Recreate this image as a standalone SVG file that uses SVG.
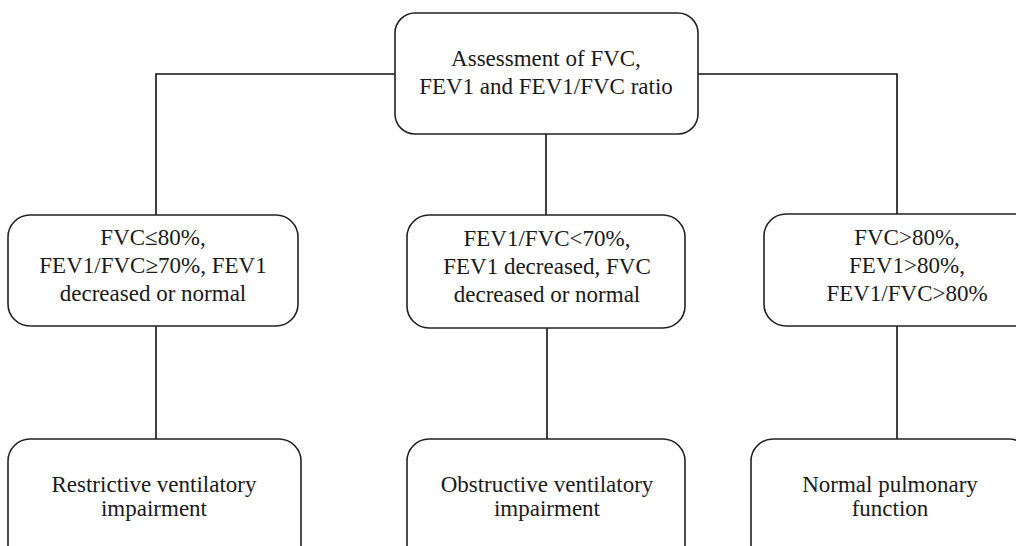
<svg xmlns="http://www.w3.org/2000/svg" width="1016" height="546" viewBox="0 0 1016 546">
<style>
.box{fill:#fff;stroke:#222;stroke-width:1.6}
.t{font-family:'Liberation Serif','DejaVu Serif','Noto Serif',serif;font-size:23px;fill:#1a1a1a;text-anchor:middle}
.c{fill:none;stroke:#111;stroke-width:1.6}
</style>
<rect width="1016" height="546" fill="#fff"/>
<g id="connectors">
<polyline class="c" points="156,215 156,74 395,74"/>
<polyline class="c" points="698,74 897,74 897,214"/>
<line class="c" x1="546" y1="134" x2="546" y2="215"/>
<line class="c" x1="156" y1="326" x2="156" y2="439"/>
<line class="c" x1="547" y1="328" x2="547" y2="439"/>
<line class="c" x1="897" y1="326" x2="897" y2="446"/>
</g>
<g id="assessment">
<rect class="box" x="395" y="13" width="303" height="121" rx="20"/>
<text class="t" x="546" y="66">Assessment of FVC,</text>
<text class="t" x="546" y="94">FEV1 and FEV1/FVC ratio</text>
</g>
<g id="restrictive-criteria">
<rect class="box" x="8" y="215" width="290" height="111" rx="22"/>
<text class="t" x="153" y="245">FVC≤80%,</text>
<text class="t" x="153" y="273">FEV1/FVC≥70%, FEV1</text>
<text class="t" x="153" y="301">decreased or normal</text>
</g>
<g id="obstructive-criteria">
<rect class="box" x="407" y="215" width="278" height="113" rx="22"/>
<text class="t" x="547" y="246">FEV1/FVC&lt;70%,</text>
<text class="t" x="547" y="274">FEV1 decreased, FVC</text>
<text class="t" x="547" y="302">decreased or normal</text>
</g>
<g id="normal-criteria">
<rect class="box" x="764" y="214" width="290" height="112" rx="22"/>
<text class="t" x="907" y="245">FVC&gt;80%,</text>
<text class="t" x="907" y="273">FEV1&gt;80%,</text>
<text class="t" x="907" y="301">FEV1/FVC&gt;80%</text>
</g>
<g id="restrictive">
<rect class="box" x="8" y="439" width="293" height="130" rx="22"/>
<text class="t" x="154" y="492">Restrictive ventilatory</text>
<text class="t" x="154" y="516">impairment</text>
</g>
<g id="obstructive">
<rect class="box" x="407" y="439" width="278" height="130" rx="22"/>
<text class="t" x="547" y="492">Obstructive ventilatory</text>
<text class="t" x="547" y="516">impairment</text>
</g>
<g id="normal">
<rect class="box" x="751" y="439" width="280" height="130" rx="22"/>
<text class="t" x="890" y="492">Normal pulmonary</text>
<text class="t" x="890" y="516">function</text>
</g>
</svg>
